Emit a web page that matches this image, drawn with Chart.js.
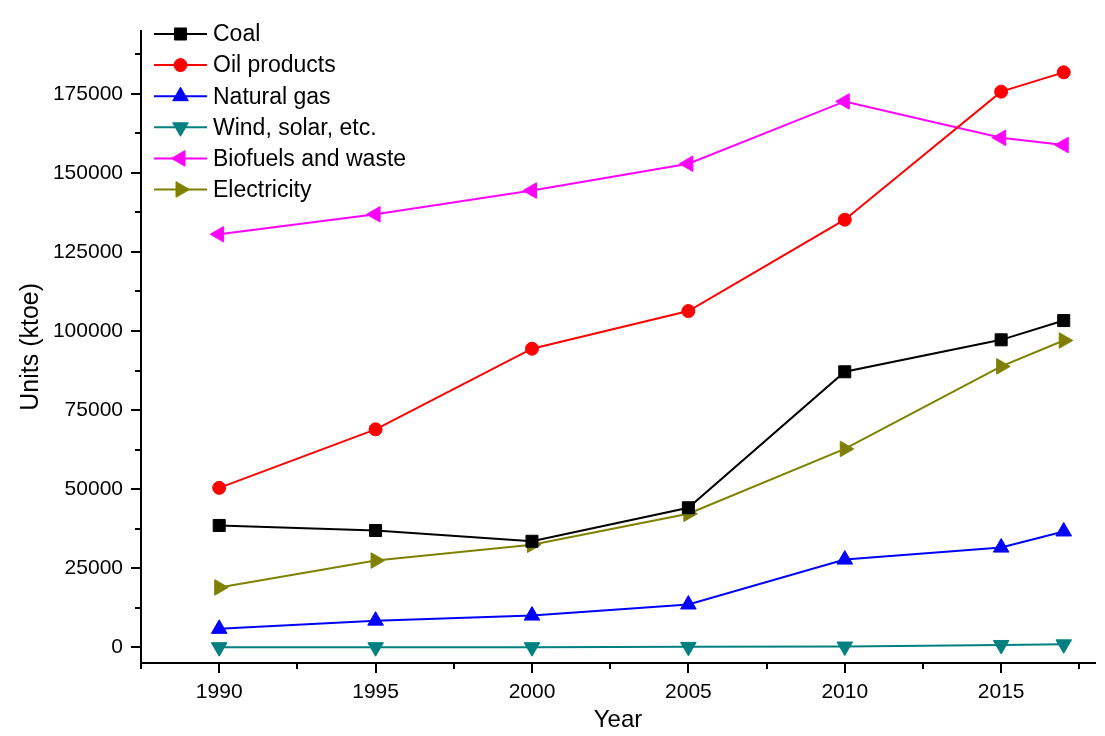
<!DOCTYPE html>
<html>
<head>
<meta charset="utf-8">
<script src="https://cdn.jsdelivr.net/npm/chart.js@4/dist/chart.umd.min.js"></script>
<style>
  html, body { margin: 0; padding: 0; background: #fff; }
  #wrap { width: 1105px; height: 736px; }
</style>
</head>
<body>
<div id="wrap"><canvas id="js_energyChart"></canvas></div>
<script>
const years = [1990, 1995, 2000, 2005, 2010, 2015, 2017];

const coal = [38500, 36900, 33500, 44100, 87100, 97200, 103300];
const oilProducts = [50400, 68900, 94400, 106300, 135200, 175700, 181800];
const naturalGas = [5800, 8400, 10000, 13500, 27700, 31500, 36600];
const windSolar = [0, 0, 0, 100, 200, 700, 900];
const biofuels = [130600, 136900, 144400, 152900, 172600, 161100, 158800];
const electricity = [18900, 27400, 32400, 42200, 62700, 88800, 97000];

// axis ticks: labelled majors, unlabelled minors halfway between
const yearTicks = [1987.5, 1990, 1992.5, 1995, 1997.5, 2000, 2002.5, 2005, 2007.5, 2010, 2012.5, 2015, 2017.5];
const unitTicks = [0, 12500, 25000, 37500, 50000, 62500, 75000, 87500, 100000, 112500, 125000, 137500, 150000, 162500, 175000, 187500];

const FONT = "'Liberation Sans', Arial, sans-serif";

const toPoints = (values) => values.map((y, i) => ({ x: years[i], y }));

const series = (label, values, color, pointStyle, rotation, radius) => ({
  label,
  data: toPoints(values),
  borderColor: color,
  backgroundColor: color,
  borderWidth: 2,
  pointStyle,
  pointRotation: rotation,
  pointRadius: radius,
  pointHoverRadius: radius,
  pointBorderWidth: 1,
  tension: 0,
});

// legend drawn inside the plot, top-left
const innerLegend = {
  id: 'innerLegend',
  afterDraw(chart) {
    const { ctx } = chart;
    const x0 = 154;
    const x1 = 207;
    const top = 34;
    const step = 31.1;
    ctx.save();
    chart.data.datasets.forEach((ds, i) => {
      const y = top + i * step;
      ctx.strokeStyle = ds.borderColor;
      ctx.lineWidth = 2;
      ctx.beginPath();
      ctx.moveTo(x0, y);
      ctx.lineTo(x1, y);
      ctx.stroke();
      ctx.lineWidth = 1;
      ctx.fillStyle = ds.backgroundColor;
      Chart.helpers.drawPoint(ctx, {
        pointStyle: ds.pointStyle,
        rotation: ds.pointRotation,
        radius: ds.pointRadius,
        borderWidth: 1,
      }, (x0 + x1) / 2, y);
      ctx.fillStyle = '#000';
      ctx.font = `23px ${FONT}`;
      ctx.textBaseline = 'middle';
      ctx.fillText(ds.label, 213, y + 1);
    });
    ctx.restore();
  },
};

// outward ticks, long for labelled values and short for the ones between
const axisTicks = {
  id: 'axisTicks',
  afterDraw(chart) {
    const { ctx, chartArea } = chart;
    const xs = chart.scales.x;
    const ys = chart.scales.y;
    ctx.save();
    ctx.strokeStyle = '#000';
    ctx.lineWidth = 2;
    ctx.beginPath();
    xs.ticks.forEach((t) => {
      const px = Math.round(xs.getPixelForValue(t.value));
      const len = t.value % 5 === 0 ? 10 : 6;
      ctx.moveTo(px, chartArea.bottom);
      ctx.lineTo(px, chartArea.bottom + len);
    });
    ys.ticks.forEach((t) => {
      const py = Math.round(ys.getPixelForValue(t.value));
      const len = t.value % 25000 === 0 ? 10 : 6;
      ctx.moveTo(chartArea.left, py);
      ctx.lineTo(chartArea.left - len, py);
    });
    ctx.stroke();
    ctx.restore();
  },
};

document.addEventListener('DOMContentLoaded', () => {
  const ctx = document.getElementById('js_energyChart');

  new Chart(ctx, {
    type: 'line',
    data: {
      datasets: [
        series('Coal', coal, '#000000', 'rect', 0, 8.5),
        series('Oil products', oilProducts, '#ff0000', 'circle', 0, 6.5),
        series('Natural gas', naturalGas, '#0000ff', 'triangle', 0, 9),
        series('Wind, solar, etc.', windSolar, '#008080', 'triangle', 180, 9),
        series('Biofuels and waste', biofuels, '#ff00ff', 'triangle', 270, 9),
        series('Electricity', electricity, '#808000', 'triangle', 90, 9),
      ],
    },
    options: {
      responsive: true,
      maintainAspectRatio: false,
      animation: false,
      devicePixelRatio: 1,
      layout: { padding: { top: 26, right: 0, left: 0, bottom: 0 } },
      plugins: {
        legend: { display: false },
        tooltip: { enabled: false },
      },
      scales: {
        x: {
          type: 'linear',
          min: 1987.5,
          max: 2018,
          afterBuildTicks: (scale) => { scale.ticks = yearTicks.map((value) => ({ value })); },
          afterFit: (scale) => { scale.height = 73; },
          grid: { drawOnChartArea: false, drawTicks: false },
          border: { display: true, color: '#000', width: 2 },
          ticks: {
            autoSkip: false,
            maxRotation: 0,
            padding: 17,
            color: '#000',
            font: { family: FONT, size: 21 },
            callback: (v) => (v % 5 === 0 ? String(v) : ''),
          },
          title: {
            display: true,
            text: 'Year',
            color: '#000',
            font: { family: FONT, size: 24 },
            padding: { top: 0, bottom: 1 },
          },
        },
        y: {
          min: -5000,
          max: 195000,
          afterBuildTicks: (scale) => { scale.ticks = unitTicks.map((value) => ({ value })); },
          afterFit: (scale) => { scale.width = 141; },
          grid: { drawOnChartArea: false, drawTicks: false },
          border: { display: true, color: '#000', width: 2 },
          ticks: {
            autoSkip: false,
            padding: 18,
            color: '#000',
            font: { family: FONT, size: 21 },
            callback: (v) => (v % 25000 === 0 ? String(v) : ''),
          },
          title: {
            display: true,
            text: 'Units (ktoe)',
            color: '#000',
            font: { family: FONT, size: 25 },
            padding: { top: 16, bottom: 0 },
          },
        },
      },
    },
    plugins: [axisTicks, innerLegend],
  });
});
</script>
</body>
</html>
